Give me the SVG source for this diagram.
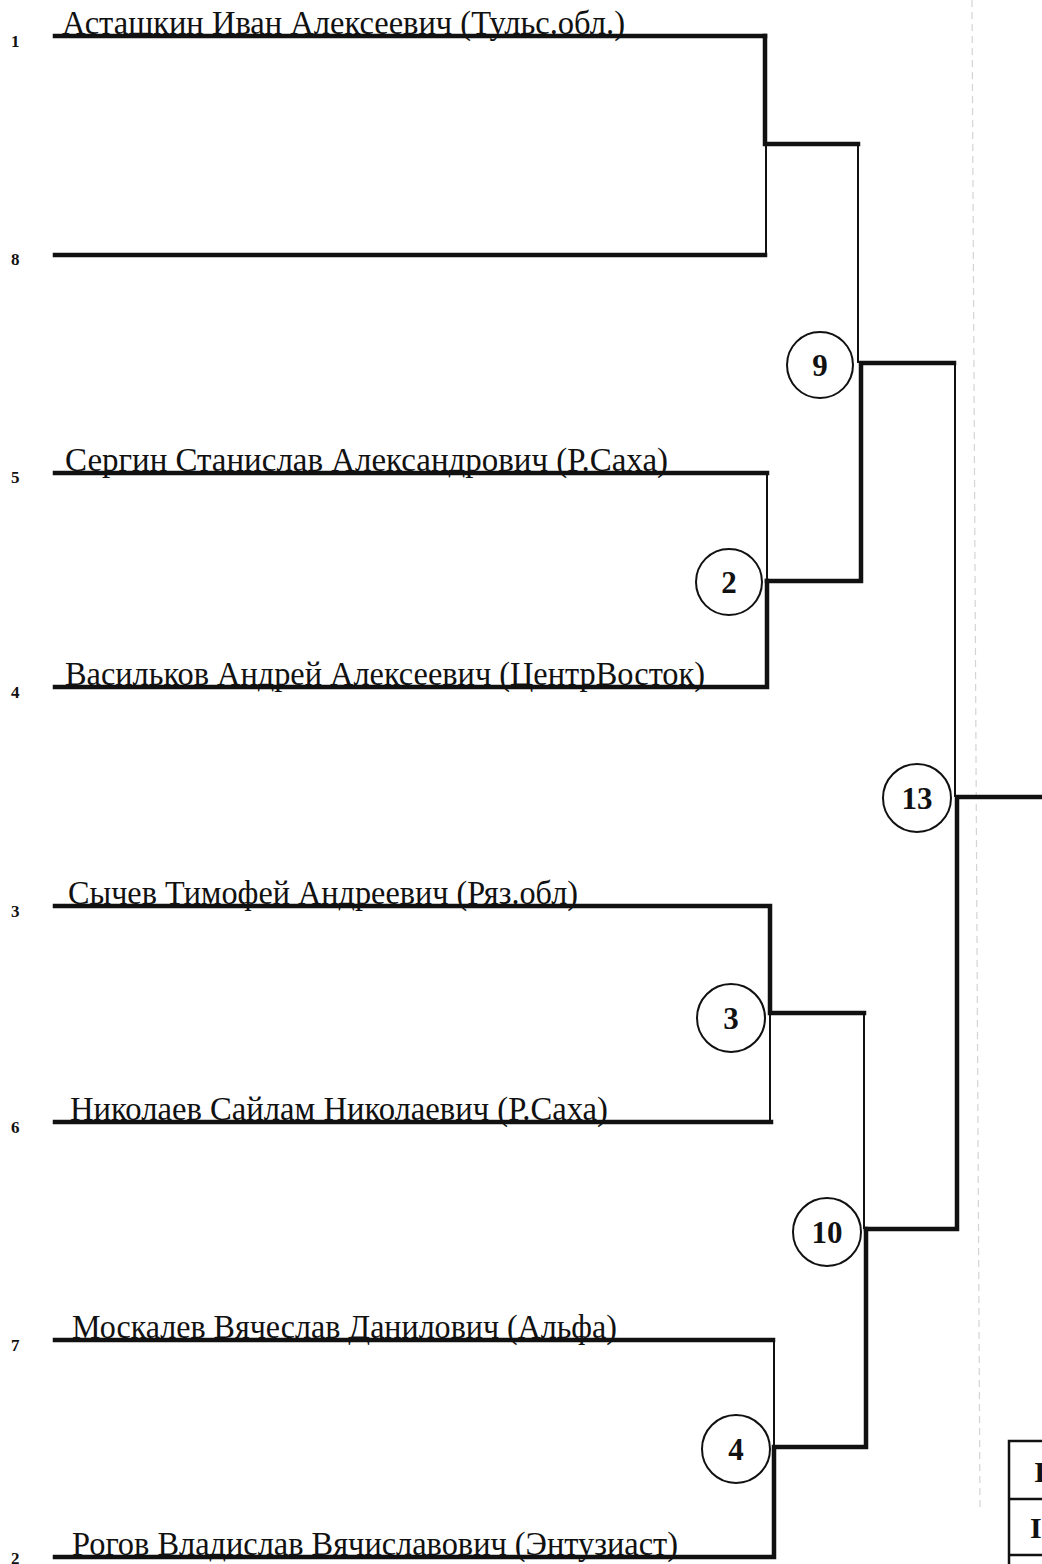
<svg xmlns="http://www.w3.org/2000/svg" width="1042" height="1564" viewBox="0 0 1042 1564">
<style>
.bg{fill:#ffffff}
.name{font-family:"Liberation Serif","Times New Roman",serif;font-size:33px;fill:#111}
.num{font-family:"Liberation Serif","Times New Roman",serif;font-size:17px;font-weight:bold;fill:#111}
.cnum{font-family:"Liberation Serif","Times New Roman",serif;font-size:31px;font-weight:bold;fill:#111;text-anchor:middle}
.tnum{font-family:"Liberation Serif","Times New Roman",serif;font-size:30px;font-weight:bold;fill:#111}
.thick{stroke:#111;stroke-width:4.5;fill:none;stroke-linecap:square}
.thin{stroke:#111;stroke-width:2;fill:none}
.circ{fill:#fff;stroke:#111;stroke-width:2}
.tbl{fill:none;stroke:#111;stroke-width:2.5}
</style>
<rect class="bg" x="0" y="0" width="1042" height="1564"/>
<line x1="972" y1="0" x2="980" y2="1510" stroke="#d4d4d4" stroke-width="1.2" stroke-dasharray="7 5"/>
<g id="connectors">
  <path class="thick" d="M55 36H765"/>
  <path class="thick" d="M55 255H765"/>
  <path class="thick" d="M765 36V144H858"/>
  <path class="thin" d="M766 144V255"/>
  <path class="thin" d="M858 144V363"/>
  <path class="thick" d="M767 581H861V363H954"/>
  <path class="thick" d="M55 473H767"/>
  <path class="thick" d="M55 687H767V581"/>
  <path class="thin" d="M767 473V581"/>
  <path class="thin" d="M955 363V797"/>
  <path class="thick" d="M1042 797H957V1229H866"/>
  <path class="thick" d="M55 906H770V1013H864"/>
  <path class="thin" d="M770 1013V1122"/>
  <path class="thick" d="M55 1122H771"/>
  <path class="thin" d="M864 1013V1229"/>
  <path class="thick" d="M866 1229V1447H774V1557H55"/>
  <path class="thick" d="M55 1340H773"/>
  <path class="thin" d="M774 1340V1447"/>
</g>
<g id="p1"><text class="num" x="11" y="47">1</text><text class="name" x="62" y="34" textLength="563" lengthAdjust="spacingAndGlyphs">Асташкин Иван Алексеевич (Тульс.обл.)</text></g>
<g id="p8"><text class="num" x="11" y="265">8</text></g>
<g id="p5"><text class="num" x="11" y="483">5</text><text class="name" x="65" y="471" textLength="603" lengthAdjust="spacingAndGlyphs">Сергин Станислав Александрович (Р.Саха)</text></g>
<g id="p4"><text class="num" x="11" y="698">4</text><text class="name" x="65" y="685" textLength="640" lengthAdjust="spacingAndGlyphs">Васильков Андрей Алексеевич (ЦентрВосток)</text></g>
<g id="p3"><text class="num" x="11" y="917">3</text><text class="name" x="68" y="904" textLength="510" lengthAdjust="spacingAndGlyphs">Сычев Тимофей Андреевич (Ряз.обл)</text></g>
<g id="p6"><text class="num" x="11" y="1133">6</text><text class="name" x="70" y="1120" textLength="538" lengthAdjust="spacingAndGlyphs">Николаев Сайлам Николаевич (Р.Саха)</text></g>
<g id="p7"><text class="num" x="11" y="1351">7</text><text class="name" x="72" y="1338" textLength="545" lengthAdjust="spacingAndGlyphs">Москалев Вячеслав Данилович (Альфа)</text></g>
<g id="p2"><text class="num" x="11" y="1564">2</text><text class="name" x="72" y="1555" textLength="606" lengthAdjust="spacingAndGlyphs">Рогов Владислав Вячиславович (Энтузиаст)</text></g>
<g id="m9"><circle class="circ" cx="820" cy="365" r="33"/><text class="cnum" x="820" y="376">9</text></g>
<g id="m2"><circle class="circ" cx="729" cy="582" r="33"/><text class="cnum" x="729" y="593">2</text></g>
<g id="m13"><circle class="circ" cx="917" cy="798" r="34"/><text class="cnum" x="917" y="809">13</text></g>
<g id="m3"><circle class="circ" cx="731" cy="1018" r="34"/><text class="cnum" x="731" y="1029">3</text></g>
<g id="m10"><circle class="circ" cx="827" cy="1232" r="34"/><text class="cnum" x="827" y="1243">10</text></g>
<g id="m4"><circle class="circ" cx="736" cy="1449" r="34"/><text class="cnum" x="736" y="1460">4</text></g>
<g id="table">
  <rect class="tbl" x="1009" y="1441" width="60" height="140"/>
  <line class="tbl" x1="1009" y1="1499" x2="1042" y2="1499"/>
  <line class="tbl" x1="1009" y1="1555" x2="1042" y2="1555"/>
  <text class="tnum" x="1034" y="1482">I</text>
  <text class="tnum" x="1030" y="1538">I</text>
</g>
</svg>
